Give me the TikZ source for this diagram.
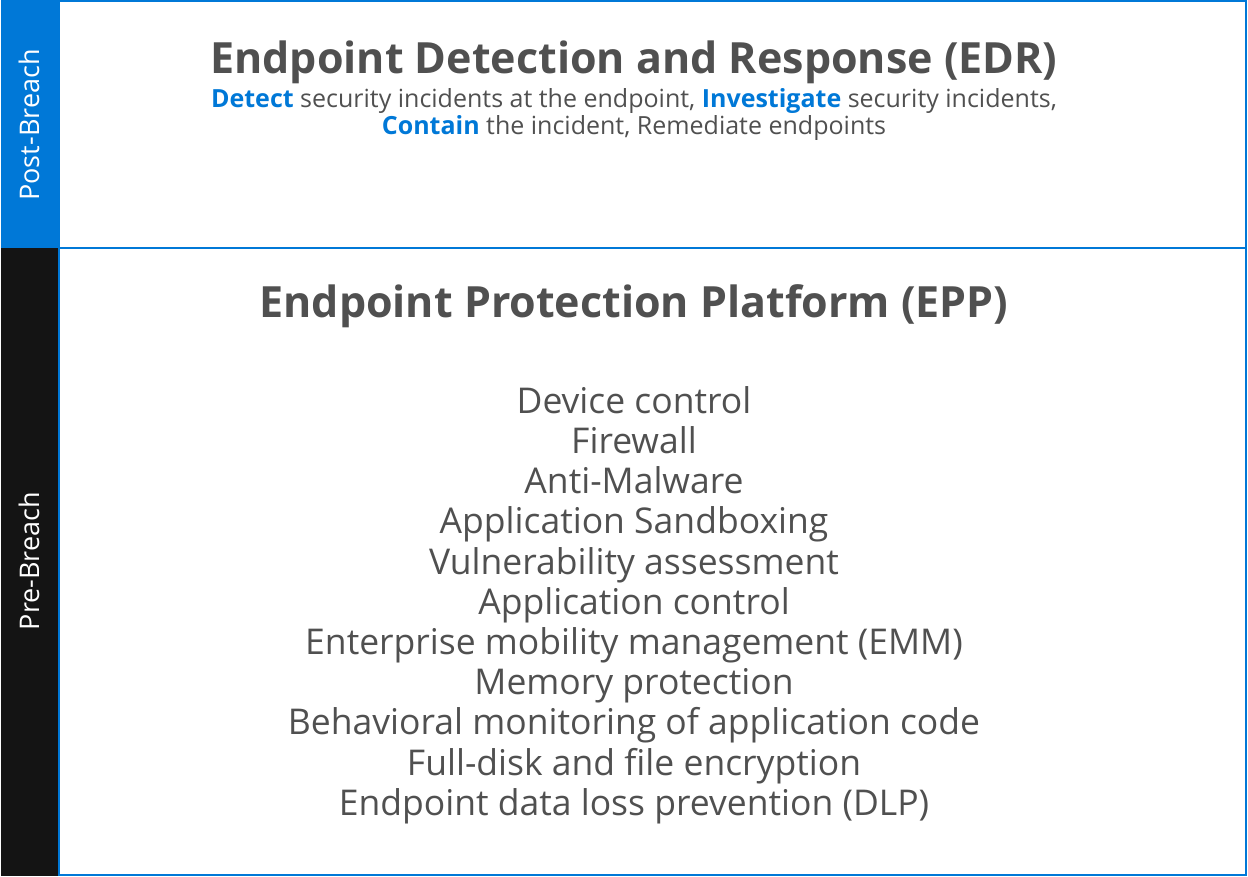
\documentclass[tikz,border=0pt]{standalone}
\usepackage{fontspec}
\setmainfont{Open Sans}
\definecolor{msblue}{HTML}{0078D7}
\definecolor{bardark}{HTML}{141414}
\definecolor{txtgray}{HTML}{505050}
\begin{document}
\begin{tikzpicture}[x=1pt,y=-1pt,
  frame/.style={draw=msblue,line width=2pt},
  sidelabel/.style={text=white,rotate=90,font=\fontsize{27}{30}\selectfont,inner sep=0pt},
  heading/.style={text=txtgray,font=\bfseries\fontsize{43}{50}\selectfont,inner sep=0pt},
  subline/.style={text=txtgray,font=\fontsize{25}{27}\selectfont,inner sep=0pt,align=center},
  feature/.style={text=txtgray,font=\fontsize{35.5}{40.2}\selectfont,inner sep=0pt,align=center}]
\useasboundingbox (0,0) rectangle (1248,876);
% side bars
\fill[msblue] (1,0) rectangle (59,248);
\fill[bardark] (1,248) rectangle (59,876);
% panel frame and divider
\draw[frame] (59,1) rectangle (1246,875);
\draw[frame] (59,248) -- (1246,248);
% side labels
\node[sidelabel] (post) at (29,125) {Post-Breach};
\node[sidelabel] (pre) at (29,561) {Pre-Breach};
% EDR panel
\node[heading] (edr) at (634,62) {Endpoint Detection and Response (EDR)};
\node[subline] (edrtext) at (634,115) {{\color{msblue}\bfseries Detect} security incidents at the endpoint, {\color{msblue}\bfseries Investigate} security incidents,\\{\color{msblue}\bfseries Contain} the incident, Remediate endpoints};
% EPP panel
\node[heading] (epp) at (634,306) {Endpoint Protection Platform (EPP)};
\node[feature] (features) at (634,605) {Device control\\Firewall\\Anti-Malware\\Application Sandboxing\\Vulnerability assessment\\Application control\\Enterprise mobility management (EMM)\\Memory protection\\Behavioral monitoring of application code\\Full-disk and file encryption\\Endpoint data loss prevention (DLP)};
\end{tikzpicture}
\end{document}
